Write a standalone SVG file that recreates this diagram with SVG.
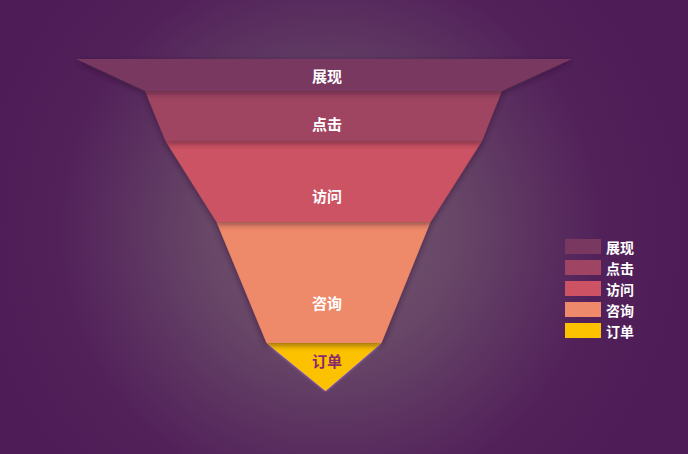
<svg xmlns="http://www.w3.org/2000/svg" width="688" height="454" viewBox="0 0 688 454">
  <defs>
    <radialGradient id="bg" cx="330" cy="230" r="360" gradientUnits="userSpaceOnUse">
      <stop offset="0" stop-color="#765872"/>
      <stop offset="0.35" stop-color="#674667"/>
      <stop offset="0.75" stop-color="#52215a"/>
      <stop offset="1" stop-color="#4e1d57"/>
    </radialGradient>
    <filter id="sh" x="-10%" y="-20%" width="120%" height="150%">
      <feDropShadow dx="0" dy="2" stdDeviation="3" flood-color="#2a0a2a" flood-opacity="0.55"/>
    </filter>
    <filter id="glow" x="-20%" y="-20%" width="140%" height="140%">
      <feDropShadow dx="0" dy="0" stdDeviation="1.5" flood-color="#c080e0" flood-opacity="0.9"/>
    </filter>
  </defs>
  <style>
    .lbl { font-family: "Noto Sans CJK SC", "Noto Sans", sans-serif; font-size: 15px; font-weight: bold; fill: #ffffff; text-anchor: middle; dominant-baseline: central; }
    .leg { font-family: "Noto Sans CJK SC", "Noto Sans", sans-serif; font-size: 14px; font-weight: bold; fill: #ffffff; dominant-baseline: central; }
  </style>
  <rect width="688" height="454" fill="url(#bg)"/>

  <g id="band-dingdan">
    <polygon points="266.5,343 381.5,343 325.5,391" fill="#fcc200" filter="url(#glow)"/>
    <text class="lbl" x="327" y="360" style="fill:#8a2a6c">订单</text>
  </g>
  <g id="band-zixun">
    <polygon points="216.5,222 430.5,222 381.5,343 266.5,343" fill="#ee896b" filter="url(#sh)"/>
    <text class="lbl" x="327" y="302">咨询</text>
  </g>
  <g id="band-fangwen">
    <polygon points="165.5,141 482,141 430.5,222 216.5,222" fill="#cc5264" filter="url(#sh)"/>
    <text class="lbl" x="327" y="195">访问</text>
  </g>
  <g id="band-dianji">
    <polygon points="145,91 502,91 482,141 165.5,141" fill="#9f4462" filter="url(#sh)"/>
    <text class="lbl" x="327" y="123">点击</text>
  </g>
  <g id="band-zhanxian">
    <polygon points="76,59 572,59 502,91 145,91" fill="#78385f" filter="url(#sh)"/>
    <text class="lbl" x="327" y="75">展现</text>
  </g>

  <g id="connectors"></g>

  <g id="legend">
    <rect x="565" y="239" width="36" height="15" fill="#78385f"/>
    <text class="leg" x="606" y="246.5">展现</text>
    <rect x="565" y="260" width="36" height="15" fill="#9f4462"/>
    <text class="leg" x="606" y="267.5">点击</text>
    <rect x="565" y="281" width="36" height="15" fill="#cc5264"/>
    <text class="leg" x="606" y="288.5">访问</text>
    <rect x="565" y="302" width="36" height="15" fill="#ee896b"/>
    <text class="leg" x="606" y="309.5">咨询</text>
    <rect x="565" y="323" width="36" height="15" fill="#fcc200"/>
    <text class="leg" x="606" y="330.5">订单</text>
  </g>
</svg>
